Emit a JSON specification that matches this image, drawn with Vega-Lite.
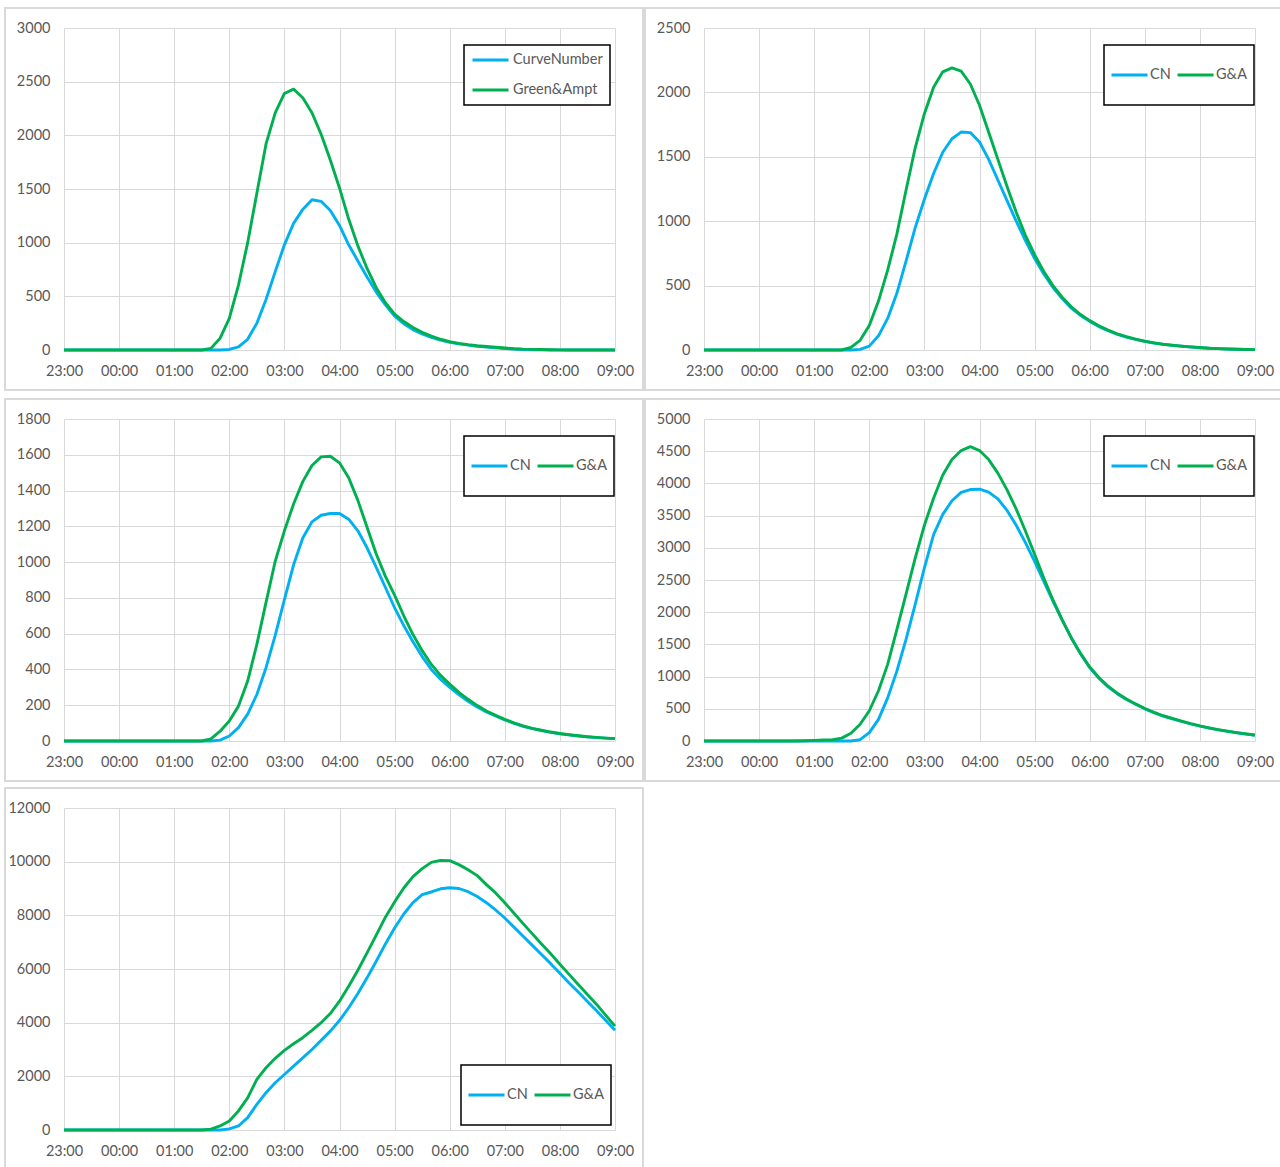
{
"$schema":"https://vega.github.io/schema/vega-lite/v6.json",
"padding":{"left":3,"top":6,"right":0,"bottom":0},
"background":"white",
"columns":2,
"spacing":{"row":5,"column":-2},
"resolve":{"scale":{"color":"independent"},"legend":{"color":"independent"}},
"config":{
"font":"Lato",
"view":{"stroke":null},
"axis":{"domain":false,"ticks":false,"grid":true,"gridColor":"#d9d9d9","gridWidth":1,"labelFont":"Lato","labelFontSize":14.5,"labelColor":"#595959"},
"legend":{"strokeColor":"#000000","strokeWidth":1.5,"fillColor":"#ffffff","labelFont":"Lato","labelFontSize":14.5,"labelColor":"#595959","symbolType":"stroke","symbolStrokeWidth":3,"symbolSize":1296,"labelOffset":3}
},
"datasets":{
"p1":[
{"s":"CurveNumber","t":"2020-01-01T23:00","v":0},{"s":"CurveNumber","t":"2020-01-01T23:10","v":0},{"s":"CurveNumber","t":"2020-01-01T23:20","v":0},{"s":"CurveNumber","t":"2020-01-01T23:30","v":0},{"s":"CurveNumber","t":"2020-01-01T23:40","v":0},{"s":"CurveNumber","t":"2020-01-01T23:50","v":0},
{"s":"CurveNumber","t":"2020-01-02T00:00","v":0},{"s":"CurveNumber","t":"2020-01-02T00:10","v":0},{"s":"CurveNumber","t":"2020-01-02T00:20","v":0},{"s":"CurveNumber","t":"2020-01-02T00:30","v":0},{"s":"CurveNumber","t":"2020-01-02T00:40","v":0},{"s":"CurveNumber","t":"2020-01-02T00:50","v":0},
{"s":"CurveNumber","t":"2020-01-02T01:00","v":0},{"s":"CurveNumber","t":"2020-01-02T01:10","v":0},{"s":"CurveNumber","t":"2020-01-02T01:20","v":0},{"s":"CurveNumber","t":"2020-01-02T01:30","v":0},{"s":"CurveNumber","t":"2020-01-02T01:40","v":0},{"s":"CurveNumber","t":"2020-01-02T01:50","v":0},
{"s":"CurveNumber","t":"2020-01-02T02:00","v":5},{"s":"CurveNumber","t":"2020-01-02T02:10","v":30},{"s":"CurveNumber","t":"2020-01-02T02:20","v":100},{"s":"CurveNumber","t":"2020-01-02T02:30","v":250},{"s":"CurveNumber","t":"2020-01-02T02:40","v":470},{"s":"CurveNumber","t":"2020-01-02T02:50","v":730},
{"s":"CurveNumber","t":"2020-01-02T03:00","v":980},{"s":"CurveNumber","t":"2020-01-02T03:10","v":1180},{"s":"CurveNumber","t":"2020-01-02T03:20","v":1310},{"s":"CurveNumber","t":"2020-01-02T03:30","v":1400},{"s":"CurveNumber","t":"2020-01-02T03:40","v":1385},{"s":"CurveNumber","t":"2020-01-02T03:50","v":1300},
{"s":"CurveNumber","t":"2020-01-02T04:00","v":1160},{"s":"CurveNumber","t":"2020-01-02T04:10","v":980},{"s":"CurveNumber","t":"2020-01-02T04:20","v":830},{"s":"CurveNumber","t":"2020-01-02T04:30","v":680},{"s":"CurveNumber","t":"2020-01-02T04:40","v":540},{"s":"CurveNumber","t":"2020-01-02T04:50","v":420},
{"s":"CurveNumber","t":"2020-01-02T05:00","v":315},{"s":"CurveNumber","t":"2020-01-02T05:10","v":245},{"s":"CurveNumber","t":"2020-01-02T05:20","v":190},{"s":"CurveNumber","t":"2020-01-02T05:30","v":150},{"s":"CurveNumber","t":"2020-01-02T05:40","v":118},{"s":"CurveNumber","t":"2020-01-02T05:50","v":92},
{"s":"CurveNumber","t":"2020-01-02T06:00","v":72},{"s":"CurveNumber","t":"2020-01-02T06:10","v":57},{"s":"CurveNumber","t":"2020-01-02T06:20","v":45},{"s":"CurveNumber","t":"2020-01-02T06:30","v":35},{"s":"CurveNumber","t":"2020-01-02T06:40","v":27},{"s":"CurveNumber","t":"2020-01-02T06:50","v":20},
{"s":"CurveNumber","t":"2020-01-02T07:00","v":14},{"s":"CurveNumber","t":"2020-01-02T07:10","v":9},{"s":"CurveNumber","t":"2020-01-02T07:20","v":5},{"s":"CurveNumber","t":"2020-01-02T07:30","v":3},{"s":"CurveNumber","t":"2020-01-02T07:40","v":1},{"s":"CurveNumber","t":"2020-01-02T07:50","v":0},
{"s":"CurveNumber","t":"2020-01-02T08:00","v":0},{"s":"CurveNumber","t":"2020-01-02T08:10","v":0},{"s":"CurveNumber","t":"2020-01-02T08:20","v":0},{"s":"CurveNumber","t":"2020-01-02T08:30","v":0},{"s":"CurveNumber","t":"2020-01-02T08:40","v":0},{"s":"CurveNumber","t":"2020-01-02T08:50","v":0},
{"s":"CurveNumber","t":"2020-01-02T09:00","v":0},
{"s":"Green&Ampt","t":"2020-01-01T23:00","v":0},{"s":"Green&Ampt","t":"2020-01-01T23:10","v":0},{"s":"Green&Ampt","t":"2020-01-01T23:20","v":0},{"s":"Green&Ampt","t":"2020-01-01T23:30","v":0},{"s":"Green&Ampt","t":"2020-01-01T23:40","v":0},{"s":"Green&Ampt","t":"2020-01-01T23:50","v":0},
{"s":"Green&Ampt","t":"2020-01-02T00:00","v":0},{"s":"Green&Ampt","t":"2020-01-02T00:10","v":0},{"s":"Green&Ampt","t":"2020-01-02T00:20","v":0},{"s":"Green&Ampt","t":"2020-01-02T00:30","v":0},{"s":"Green&Ampt","t":"2020-01-02T00:40","v":0},{"s":"Green&Ampt","t":"2020-01-02T00:50","v":0},
{"s":"Green&Ampt","t":"2020-01-02T01:00","v":0},{"s":"Green&Ampt","t":"2020-01-02T01:10","v":0},{"s":"Green&Ampt","t":"2020-01-02T01:20","v":0},{"s":"Green&Ampt","t":"2020-01-02T01:30","v":0},{"s":"Green&Ampt","t":"2020-01-02T01:40","v":15},{"s":"Green&Ampt","t":"2020-01-02T01:50","v":110},
{"s":"Green&Ampt","t":"2020-01-02T02:00","v":295},{"s":"Green&Ampt","t":"2020-01-02T02:10","v":605},{"s":"Green&Ampt","t":"2020-01-02T02:20","v":1000},{"s":"Green&Ampt","t":"2020-01-02T02:30","v":1460},{"s":"Green&Ampt","t":"2020-01-02T02:40","v":1920},{"s":"Green&Ampt","t":"2020-01-02T02:50","v":2210},
{"s":"Green&Ampt","t":"2020-01-02T03:00","v":2390},{"s":"Green&Ampt","t":"2020-01-02T03:10","v":2430},{"s":"Green&Ampt","t":"2020-01-02T03:20","v":2350},{"s":"Green&Ampt","t":"2020-01-02T03:30","v":2210},{"s":"Green&Ampt","t":"2020-01-02T03:40","v":2010},{"s":"Green&Ampt","t":"2020-01-02T03:50","v":1770},
{"s":"Green&Ampt","t":"2020-01-02T04:00","v":1510},{"s":"Green&Ampt","t":"2020-01-02T04:10","v":1220},{"s":"Green&Ampt","t":"2020-01-02T04:20","v":970},{"s":"Green&Ampt","t":"2020-01-02T04:30","v":760},{"s":"Green&Ampt","t":"2020-01-02T04:40","v":580},{"s":"Green&Ampt","t":"2020-01-02T04:50","v":440},
{"s":"Green&Ampt","t":"2020-01-02T05:00","v":335},{"s":"Green&Ampt","t":"2020-01-02T05:10","v":265},{"s":"Green&Ampt","t":"2020-01-02T05:20","v":210},{"s":"Green&Ampt","t":"2020-01-02T05:30","v":165},{"s":"Green&Ampt","t":"2020-01-02T05:40","v":130},{"s":"Green&Ampt","t":"2020-01-02T05:50","v":100},
{"s":"Green&Ampt","t":"2020-01-02T06:00","v":78},{"s":"Green&Ampt","t":"2020-01-02T06:10","v":62},{"s":"Green&Ampt","t":"2020-01-02T06:20","v":50},{"s":"Green&Ampt","t":"2020-01-02T06:30","v":40},{"s":"Green&Ampt","t":"2020-01-02T06:40","v":32},{"s":"Green&Ampt","t":"2020-01-02T06:50","v":25},
{"s":"Green&Ampt","t":"2020-01-02T07:00","v":18},{"s":"Green&Ampt","t":"2020-01-02T07:10","v":12},{"s":"Green&Ampt","t":"2020-01-02T07:20","v":8},{"s":"Green&Ampt","t":"2020-01-02T07:30","v":6},{"s":"Green&Ampt","t":"2020-01-02T07:40","v":5},{"s":"Green&Ampt","t":"2020-01-02T07:50","v":3},
{"s":"Green&Ampt","t":"2020-01-02T08:00","v":1},{"s":"Green&Ampt","t":"2020-01-02T08:10","v":0},{"s":"Green&Ampt","t":"2020-01-02T08:20","v":0},{"s":"Green&Ampt","t":"2020-01-02T08:30","v":0},{"s":"Green&Ampt","t":"2020-01-02T08:40","v":0},{"s":"Green&Ampt","t":"2020-01-02T08:50","v":0},
{"s":"Green&Ampt","t":"2020-01-02T09:00","v":0}
],
"p2":[
{"s":"CN","t":"2020-01-01T23:00","v":0},{"s":"CN","t":"2020-01-01T23:10","v":0},{"s":"CN","t":"2020-01-01T23:20","v":0},{"s":"CN","t":"2020-01-01T23:30","v":0},{"s":"CN","t":"2020-01-01T23:40","v":0},{"s":"CN","t":"2020-01-01T23:50","v":0},
{"s":"CN","t":"2020-01-02T00:00","v":0},{"s":"CN","t":"2020-01-02T00:10","v":0},{"s":"CN","t":"2020-01-02T00:20","v":0},{"s":"CN","t":"2020-01-02T00:30","v":0},{"s":"CN","t":"2020-01-02T00:40","v":0},{"s":"CN","t":"2020-01-02T00:50","v":0},
{"s":"CN","t":"2020-01-02T01:00","v":0},{"s":"CN","t":"2020-01-02T01:10","v":0},{"s":"CN","t":"2020-01-02T01:20","v":0},{"s":"CN","t":"2020-01-02T01:30","v":0},{"s":"CN","t":"2020-01-02T01:40","v":0},{"s":"CN","t":"2020-01-02T01:50","v":5},
{"s":"CN","t":"2020-01-02T02:00","v":30},{"s":"CN","t":"2020-01-02T02:10","v":110},{"s":"CN","t":"2020-01-02T02:20","v":245},{"s":"CN","t":"2020-01-02T02:30","v":440},{"s":"CN","t":"2020-01-02T02:40","v":690},{"s":"CN","t":"2020-01-02T02:50","v":950},
{"s":"CN","t":"2020-01-02T03:00","v":1170},{"s":"CN","t":"2020-01-02T03:10","v":1370},{"s":"CN","t":"2020-01-02T03:20","v":1535},{"s":"CN","t":"2020-01-02T03:30","v":1640},{"s":"CN","t":"2020-01-02T03:40","v":1692},{"s":"CN","t":"2020-01-02T03:50","v":1688},
{"s":"CN","t":"2020-01-02T04:00","v":1615},{"s":"CN","t":"2020-01-02T04:10","v":1480},{"s":"CN","t":"2020-01-02T04:20","v":1320},{"s":"CN","t":"2020-01-02T04:30","v":1160},{"s":"CN","t":"2020-01-02T04:40","v":1000},{"s":"CN","t":"2020-01-02T04:50","v":850},
{"s":"CN","t":"2020-01-02T05:00","v":710},{"s":"CN","t":"2020-01-02T05:10","v":590},{"s":"CN","t":"2020-01-02T05:20","v":485},{"s":"CN","t":"2020-01-02T05:30","v":400},{"s":"CN","t":"2020-01-02T05:40","v":325},{"s":"CN","t":"2020-01-02T05:50","v":268},
{"s":"CN","t":"2020-01-02T06:00","v":222},{"s":"CN","t":"2020-01-02T06:10","v":182},{"s":"CN","t":"2020-01-02T06:20","v":150},{"s":"CN","t":"2020-01-02T06:30","v":122},{"s":"CN","t":"2020-01-02T06:40","v":100},{"s":"CN","t":"2020-01-02T06:50","v":82},
{"s":"CN","t":"2020-01-02T07:00","v":67},{"s":"CN","t":"2020-01-02T07:10","v":54},{"s":"CN","t":"2020-01-02T07:20","v":44},{"s":"CN","t":"2020-01-02T07:30","v":36},{"s":"CN","t":"2020-01-02T07:40","v":29},{"s":"CN","t":"2020-01-02T07:50","v":23},
{"s":"CN","t":"2020-01-02T08:00","v":18},{"s":"CN","t":"2020-01-02T08:10","v":14},{"s":"CN","t":"2020-01-02T08:20","v":11},{"s":"CN","t":"2020-01-02T08:30","v":8},{"s":"CN","t":"2020-01-02T08:40","v":6},{"s":"CN","t":"2020-01-02T08:50","v":4},
{"s":"CN","t":"2020-01-02T09:00","v":3},
{"s":"G&A","t":"2020-01-01T23:00","v":0},{"s":"G&A","t":"2020-01-01T23:10","v":0},{"s":"G&A","t":"2020-01-01T23:20","v":0},{"s":"G&A","t":"2020-01-01T23:30","v":0},{"s":"G&A","t":"2020-01-01T23:40","v":0},{"s":"G&A","t":"2020-01-01T23:50","v":0},
{"s":"G&A","t":"2020-01-02T00:00","v":0},{"s":"G&A","t":"2020-01-02T00:10","v":0},{"s":"G&A","t":"2020-01-02T00:20","v":0},{"s":"G&A","t":"2020-01-02T00:30","v":0},{"s":"G&A","t":"2020-01-02T00:40","v":0},{"s":"G&A","t":"2020-01-02T00:50","v":0},
{"s":"G&A","t":"2020-01-02T01:00","v":0},{"s":"G&A","t":"2020-01-02T01:10","v":0},{"s":"G&A","t":"2020-01-02T01:20","v":0},{"s":"G&A","t":"2020-01-02T01:30","v":0},{"s":"G&A","t":"2020-01-02T01:40","v":20},{"s":"G&A","t":"2020-01-02T01:50","v":75},
{"s":"G&A","t":"2020-01-02T02:00","v":190},{"s":"G&A","t":"2020-01-02T02:10","v":380},{"s":"G&A","t":"2020-01-02T02:20","v":620},{"s":"G&A","t":"2020-01-02T02:30","v":900},{"s":"G&A","t":"2020-01-02T02:40","v":1240},{"s":"G&A","t":"2020-01-02T02:50","v":1570},
{"s":"G&A","t":"2020-01-02T03:00","v":1835},{"s":"G&A","t":"2020-01-02T03:10","v":2040},{"s":"G&A","t":"2020-01-02T03:20","v":2160},{"s":"G&A","t":"2020-01-02T03:30","v":2190},{"s":"G&A","t":"2020-01-02T03:40","v":2165},{"s":"G&A","t":"2020-01-02T03:50","v":2065},
{"s":"G&A","t":"2020-01-02T04:00","v":1900},{"s":"G&A","t":"2020-01-02T04:10","v":1690},{"s":"G&A","t":"2020-01-02T04:20","v":1480},{"s":"G&A","t":"2020-01-02T04:30","v":1270},{"s":"G&A","t":"2020-01-02T04:40","v":1070},{"s":"G&A","t":"2020-01-02T04:50","v":890},
{"s":"G&A","t":"2020-01-02T05:00","v":740},{"s":"G&A","t":"2020-01-02T05:10","v":610},{"s":"G&A","t":"2020-01-02T05:20","v":500},{"s":"G&A","t":"2020-01-02T05:30","v":410},{"s":"G&A","t":"2020-01-02T05:40","v":335},{"s":"G&A","t":"2020-01-02T05:50","v":275},
{"s":"G&A","t":"2020-01-02T06:00","v":228},{"s":"G&A","t":"2020-01-02T06:10","v":188},{"s":"G&A","t":"2020-01-02T06:20","v":154},{"s":"G&A","t":"2020-01-02T06:30","v":126},{"s":"G&A","t":"2020-01-02T06:40","v":103},{"s":"G&A","t":"2020-01-02T06:50","v":84},
{"s":"G&A","t":"2020-01-02T07:00","v":68},{"s":"G&A","t":"2020-01-02T07:10","v":55},{"s":"G&A","t":"2020-01-02T07:20","v":45},{"s":"G&A","t":"2020-01-02T07:30","v":37},{"s":"G&A","t":"2020-01-02T07:40","v":30},{"s":"G&A","t":"2020-01-02T07:50","v":24},
{"s":"G&A","t":"2020-01-02T08:00","v":19},{"s":"G&A","t":"2020-01-02T08:10","v":14},{"s":"G&A","t":"2020-01-02T08:20","v":11},{"s":"G&A","t":"2020-01-02T08:30","v":8},{"s":"G&A","t":"2020-01-02T08:40","v":6},{"s":"G&A","t":"2020-01-02T08:50","v":4},
{"s":"G&A","t":"2020-01-02T09:00","v":3}
],
"p3":[
{"s":"CN","t":"2020-01-01T23:00","v":0},{"s":"CN","t":"2020-01-01T23:10","v":0},{"s":"CN","t":"2020-01-01T23:20","v":0},{"s":"CN","t":"2020-01-01T23:30","v":0},{"s":"CN","t":"2020-01-01T23:40","v":0},{"s":"CN","t":"2020-01-01T23:50","v":0},
{"s":"CN","t":"2020-01-02T00:00","v":0},{"s":"CN","t":"2020-01-02T00:10","v":0},{"s":"CN","t":"2020-01-02T00:20","v":0},{"s":"CN","t":"2020-01-02T00:30","v":0},{"s":"CN","t":"2020-01-02T00:40","v":0},{"s":"CN","t":"2020-01-02T00:50","v":0},
{"s":"CN","t":"2020-01-02T01:00","v":0},{"s":"CN","t":"2020-01-02T01:10","v":0},{"s":"CN","t":"2020-01-02T01:20","v":0},{"s":"CN","t":"2020-01-02T01:30","v":0},{"s":"CN","t":"2020-01-02T01:40","v":0},{"s":"CN","t":"2020-01-02T01:50","v":5},
{"s":"CN","t":"2020-01-02T02:00","v":28},{"s":"CN","t":"2020-01-02T02:10","v":75},{"s":"CN","t":"2020-01-02T02:20","v":150},{"s":"CN","t":"2020-01-02T02:30","v":260},{"s":"CN","t":"2020-01-02T02:40","v":410},{"s":"CN","t":"2020-01-02T02:50","v":590},
{"s":"CN","t":"2020-01-02T03:00","v":790},{"s":"CN","t":"2020-01-02T03:10","v":985},{"s":"CN","t":"2020-01-02T03:20","v":1135},{"s":"CN","t":"2020-01-02T03:30","v":1225},{"s":"CN","t":"2020-01-02T03:40","v":1262},{"s":"CN","t":"2020-01-02T03:50","v":1272},
{"s":"CN","t":"2020-01-02T04:00","v":1272},{"s":"CN","t":"2020-01-02T04:10","v":1240},{"s":"CN","t":"2020-01-02T04:20","v":1175},{"s":"CN","t":"2020-01-02T04:30","v":1080},{"s":"CN","t":"2020-01-02T04:40","v":970},{"s":"CN","t":"2020-01-02T04:50","v":858},
{"s":"CN","t":"2020-01-02T05:00","v":745},{"s":"CN","t":"2020-01-02T05:10","v":645},{"s":"CN","t":"2020-01-02T05:20","v":555},{"s":"CN","t":"2020-01-02T05:30","v":472},{"s":"CN","t":"2020-01-02T05:40","v":400},{"s":"CN","t":"2020-01-02T05:50","v":345},
{"s":"CN","t":"2020-01-02T06:00","v":300},{"s":"CN","t":"2020-01-02T06:10","v":260},{"s":"CN","t":"2020-01-02T06:20","v":222},{"s":"CN","t":"2020-01-02T06:30","v":190},{"s":"CN","t":"2020-01-02T06:40","v":162},{"s":"CN","t":"2020-01-02T06:50","v":140},
{"s":"CN","t":"2020-01-02T07:00","v":118},{"s":"CN","t":"2020-01-02T07:10","v":99},{"s":"CN","t":"2020-01-02T07:20","v":82},{"s":"CN","t":"2020-01-02T07:30","v":69},{"s":"CN","t":"2020-01-02T07:40","v":58},{"s":"CN","t":"2020-01-02T07:50","v":48},
{"s":"CN","t":"2020-01-02T08:00","v":40},{"s":"CN","t":"2020-01-02T08:10","v":34},{"s":"CN","t":"2020-01-02T08:20","v":28},{"s":"CN","t":"2020-01-02T08:30","v":23},{"s":"CN","t":"2020-01-02T08:40","v":19},{"s":"CN","t":"2020-01-02T08:50","v":16},
{"s":"CN","t":"2020-01-02T09:00","v":13},
{"s":"G&A","t":"2020-01-01T23:00","v":0},{"s":"G&A","t":"2020-01-01T23:10","v":0},{"s":"G&A","t":"2020-01-01T23:20","v":0},{"s":"G&A","t":"2020-01-01T23:30","v":0},{"s":"G&A","t":"2020-01-01T23:40","v":0},{"s":"G&A","t":"2020-01-01T23:50","v":0},
{"s":"G&A","t":"2020-01-02T00:00","v":0},{"s":"G&A","t":"2020-01-02T00:10","v":0},{"s":"G&A","t":"2020-01-02T00:20","v":0},{"s":"G&A","t":"2020-01-02T00:30","v":0},{"s":"G&A","t":"2020-01-02T00:40","v":0},{"s":"G&A","t":"2020-01-02T00:50","v":0},
{"s":"G&A","t":"2020-01-02T01:00","v":0},{"s":"G&A","t":"2020-01-02T01:10","v":0},{"s":"G&A","t":"2020-01-02T01:20","v":0},{"s":"G&A","t":"2020-01-02T01:30","v":0},{"s":"G&A","t":"2020-01-02T01:40","v":12},{"s":"G&A","t":"2020-01-02T01:50","v":55},
{"s":"G&A","t":"2020-01-02T02:00","v":112},{"s":"G&A","t":"2020-01-02T02:10","v":195},{"s":"G&A","t":"2020-01-02T02:20","v":335},{"s":"G&A","t":"2020-01-02T02:30","v":540},{"s":"G&A","t":"2020-01-02T02:40","v":775},{"s":"G&A","t":"2020-01-02T02:50","v":1005},
{"s":"G&A","t":"2020-01-02T03:00","v":1175},{"s":"G&A","t":"2020-01-02T03:10","v":1325},{"s":"G&A","t":"2020-01-02T03:20","v":1450},{"s":"G&A","t":"2020-01-02T03:30","v":1540},{"s":"G&A","t":"2020-01-02T03:40","v":1588},{"s":"G&A","t":"2020-01-02T03:50","v":1592},
{"s":"G&A","t":"2020-01-02T04:00","v":1555},{"s":"G&A","t":"2020-01-02T04:10","v":1472},{"s":"G&A","t":"2020-01-02T04:20","v":1345},{"s":"G&A","t":"2020-01-02T04:30","v":1195},{"s":"G&A","t":"2020-01-02T04:40","v":1045},{"s":"G&A","t":"2020-01-02T04:50","v":920},
{"s":"G&A","t":"2020-01-02T05:00","v":815},{"s":"G&A","t":"2020-01-02T05:10","v":700},{"s":"G&A","t":"2020-01-02T05:20","v":595},{"s":"G&A","t":"2020-01-02T05:30","v":505},{"s":"G&A","t":"2020-01-02T05:40","v":428},{"s":"G&A","t":"2020-01-02T05:50","v":367},
{"s":"G&A","t":"2020-01-02T06:00","v":318},{"s":"G&A","t":"2020-01-02T06:10","v":272},{"s":"G&A","t":"2020-01-02T06:20","v":233},{"s":"G&A","t":"2020-01-02T06:30","v":198},{"s":"G&A","t":"2020-01-02T06:40","v":168},{"s":"G&A","t":"2020-01-02T06:50","v":143},
{"s":"G&A","t":"2020-01-02T07:00","v":121},{"s":"G&A","t":"2020-01-02T07:10","v":101},{"s":"G&A","t":"2020-01-02T07:20","v":84},{"s":"G&A","t":"2020-01-02T07:30","v":71},{"s":"G&A","t":"2020-01-02T07:40","v":60},{"s":"G&A","t":"2020-01-02T07:50","v":50},
{"s":"G&A","t":"2020-01-02T08:00","v":42},{"s":"G&A","t":"2020-01-02T08:10","v":35},{"s":"G&A","t":"2020-01-02T08:20","v":29},{"s":"G&A","t":"2020-01-02T08:30","v":24},{"s":"G&A","t":"2020-01-02T08:40","v":20},{"s":"G&A","t":"2020-01-02T08:50","v":16},
{"s":"G&A","t":"2020-01-02T09:00","v":13}
],
"p4":[
{"s":"CN","t":"2020-01-01T23:00","v":0},{"s":"CN","t":"2020-01-01T23:10","v":0},{"s":"CN","t":"2020-01-01T23:20","v":0},{"s":"CN","t":"2020-01-01T23:30","v":0},{"s":"CN","t":"2020-01-01T23:40","v":0},{"s":"CN","t":"2020-01-01T23:50","v":0},
{"s":"CN","t":"2020-01-02T00:00","v":0},{"s":"CN","t":"2020-01-02T00:10","v":0},{"s":"CN","t":"2020-01-02T00:20","v":0},{"s":"CN","t":"2020-01-02T00:30","v":0},{"s":"CN","t":"2020-01-02T00:40","v":0},{"s":"CN","t":"2020-01-02T00:50","v":0},
{"s":"CN","t":"2020-01-02T01:00","v":0},{"s":"CN","t":"2020-01-02T01:10","v":0},{"s":"CN","t":"2020-01-02T01:20","v":0},{"s":"CN","t":"2020-01-02T01:30","v":0},{"s":"CN","t":"2020-01-02T01:40","v":0},{"s":"CN","t":"2020-01-02T01:50","v":20},
{"s":"CN","t":"2020-01-02T02:00","v":130},{"s":"CN","t":"2020-01-02T02:10","v":335},{"s":"CN","t":"2020-01-02T02:20","v":670},{"s":"CN","t":"2020-01-02T02:30","v":1085},{"s":"CN","t":"2020-01-02T02:40","v":1577},{"s":"CN","t":"2020-01-02T02:50","v":2120},
{"s":"CN","t":"2020-01-02T03:00","v":2690},{"s":"CN","t":"2020-01-02T03:10","v":3205},{"s":"CN","t":"2020-01-02T03:20","v":3520},{"s":"CN","t":"2020-01-02T03:30","v":3730},{"s":"CN","t":"2020-01-02T03:40","v":3860},{"s":"CN","t":"2020-01-02T03:50","v":3905},
{"s":"CN","t":"2020-01-02T04:00","v":3910},{"s":"CN","t":"2020-01-02T04:10","v":3865},{"s":"CN","t":"2020-01-02T04:20","v":3760},{"s":"CN","t":"2020-01-02T04:30","v":3580},{"s":"CN","t":"2020-01-02T04:40","v":3350},{"s":"CN","t":"2020-01-02T04:50","v":3080},
{"s":"CN","t":"2020-01-02T05:00","v":2790},{"s":"CN","t":"2020-01-02T05:10","v":2480},{"s":"CN","t":"2020-01-02T05:20","v":2170},{"s":"CN","t":"2020-01-02T05:30","v":1880},{"s":"CN","t":"2020-01-02T05:40","v":1600},{"s":"CN","t":"2020-01-02T05:50","v":1355},
{"s":"CN","t":"2020-01-02T06:00","v":1140},{"s":"CN","t":"2020-01-02T06:10","v":975},{"s":"CN","t":"2020-01-02T06:20","v":840},{"s":"CN","t":"2020-01-02T06:30","v":735},{"s":"CN","t":"2020-01-02T06:40","v":645},{"s":"CN","t":"2020-01-02T06:50","v":570},
{"s":"CN","t":"2020-01-02T07:00","v":500},{"s":"CN","t":"2020-01-02T07:10","v":440},{"s":"CN","t":"2020-01-02T07:20","v":388},{"s":"CN","t":"2020-01-02T07:30","v":345},{"s":"CN","t":"2020-01-02T07:40","v":305},{"s":"CN","t":"2020-01-02T07:50","v":265},
{"s":"CN","t":"2020-01-02T08:00","v":230},{"s":"CN","t":"2020-01-02T08:10","v":200},{"s":"CN","t":"2020-01-02T08:20","v":173},{"s":"CN","t":"2020-01-02T08:30","v":150},{"s":"CN","t":"2020-01-02T08:40","v":128},{"s":"CN","t":"2020-01-02T08:50","v":108},
{"s":"CN","t":"2020-01-02T09:00","v":90},
{"s":"G&A","t":"2020-01-01T23:00","v":0},{"s":"G&A","t":"2020-01-01T23:10","v":0},{"s":"G&A","t":"2020-01-01T23:20","v":0},{"s":"G&A","t":"2020-01-01T23:30","v":0},{"s":"G&A","t":"2020-01-01T23:40","v":0},{"s":"G&A","t":"2020-01-01T23:50","v":0},
{"s":"G&A","t":"2020-01-02T00:00","v":0},{"s":"G&A","t":"2020-01-02T00:10","v":0},{"s":"G&A","t":"2020-01-02T00:20","v":0},{"s":"G&A","t":"2020-01-02T00:30","v":0},{"s":"G&A","t":"2020-01-02T00:40","v":0},{"s":"G&A","t":"2020-01-02T00:50","v":5},
{"s":"G&A","t":"2020-01-02T01:00","v":10},{"s":"G&A","t":"2020-01-02T01:10","v":18},{"s":"G&A","t":"2020-01-02T01:20","v":22},{"s":"G&A","t":"2020-01-02T01:30","v":45},{"s":"G&A","t":"2020-01-02T01:40","v":120},{"s":"G&A","t":"2020-01-02T01:50","v":260},
{"s":"G&A","t":"2020-01-02T02:00","v":470},{"s":"G&A","t":"2020-01-02T02:10","v":780},{"s":"G&A","t":"2020-01-02T02:20","v":1190},{"s":"G&A","t":"2020-01-02T02:30","v":1730},{"s":"G&A","t":"2020-01-02T02:40","v":2280},{"s":"G&A","t":"2020-01-02T02:50","v":2840},
{"s":"G&A","t":"2020-01-02T03:00","v":3350},{"s":"G&A","t":"2020-01-02T03:10","v":3770},{"s":"G&A","t":"2020-01-02T03:20","v":4130},{"s":"G&A","t":"2020-01-02T03:30","v":4370},{"s":"G&A","t":"2020-01-02T03:40","v":4510},{"s":"G&A","t":"2020-01-02T03:50","v":4570},
{"s":"G&A","t":"2020-01-02T04:00","v":4510},{"s":"G&A","t":"2020-01-02T04:10","v":4370},{"s":"G&A","t":"2020-01-02T04:20","v":4160},{"s":"G&A","t":"2020-01-02T04:30","v":3900},{"s":"G&A","t":"2020-01-02T04:40","v":3600},{"s":"G&A","t":"2020-01-02T04:50","v":3260},
{"s":"G&A","t":"2020-01-02T05:00","v":2900},{"s":"G&A","t":"2020-01-02T05:10","v":2530},{"s":"G&A","t":"2020-01-02T05:20","v":2190},{"s":"G&A","t":"2020-01-02T05:30","v":1880},{"s":"G&A","t":"2020-01-02T05:40","v":1600},{"s":"G&A","t":"2020-01-02T05:50","v":1360},
{"s":"G&A","t":"2020-01-02T06:00","v":1150},{"s":"G&A","t":"2020-01-02T06:10","v":985},{"s":"G&A","t":"2020-01-02T06:20","v":850},{"s":"G&A","t":"2020-01-02T06:30","v":742},{"s":"G&A","t":"2020-01-02T06:40","v":652},{"s":"G&A","t":"2020-01-02T06:50","v":576},
{"s":"G&A","t":"2020-01-02T07:00","v":505},{"s":"G&A","t":"2020-01-02T07:10","v":445},{"s":"G&A","t":"2020-01-02T07:20","v":392},{"s":"G&A","t":"2020-01-02T07:30","v":350},{"s":"G&A","t":"2020-01-02T07:40","v":310},{"s":"G&A","t":"2020-01-02T07:50","v":270},
{"s":"G&A","t":"2020-01-02T08:00","v":234},{"s":"G&A","t":"2020-01-02T08:10","v":204},{"s":"G&A","t":"2020-01-02T08:20","v":177},{"s":"G&A","t":"2020-01-02T08:30","v":153},{"s":"G&A","t":"2020-01-02T08:40","v":131},{"s":"G&A","t":"2020-01-02T08:50","v":111},
{"s":"G&A","t":"2020-01-02T09:00","v":93}
],
"p5":[
{"s":"CN","t":"2020-01-01T23:00","v":0},{"s":"CN","t":"2020-01-01T23:10","v":0},{"s":"CN","t":"2020-01-01T23:20","v":0},{"s":"CN","t":"2020-01-01T23:30","v":0},{"s":"CN","t":"2020-01-01T23:40","v":0},{"s":"CN","t":"2020-01-01T23:50","v":0},
{"s":"CN","t":"2020-01-02T00:00","v":0},{"s":"CN","t":"2020-01-02T00:10","v":0},{"s":"CN","t":"2020-01-02T00:20","v":0},{"s":"CN","t":"2020-01-02T00:30","v":0},{"s":"CN","t":"2020-01-02T00:40","v":0},{"s":"CN","t":"2020-01-02T00:50","v":0},
{"s":"CN","t":"2020-01-02T01:00","v":0},{"s":"CN","t":"2020-01-02T01:10","v":0},{"s":"CN","t":"2020-01-02T01:20","v":0},{"s":"CN","t":"2020-01-02T01:30","v":0},{"s":"CN","t":"2020-01-02T01:40","v":0},{"s":"CN","t":"2020-01-02T01:50","v":0},
{"s":"CN","t":"2020-01-02T02:00","v":40},{"s":"CN","t":"2020-01-02T02:10","v":150},{"s":"CN","t":"2020-01-02T02:20","v":460},{"s":"CN","t":"2020-01-02T02:30","v":955},{"s":"CN","t":"2020-01-02T02:40","v":1390},{"s":"CN","t":"2020-01-02T02:50","v":1760},
{"s":"CN","t":"2020-01-02T03:00","v":2070},{"s":"CN","t":"2020-01-02T03:10","v":2380},{"s":"CN","t":"2020-01-02T03:20","v":2690},{"s":"CN","t":"2020-01-02T03:30","v":3000},{"s":"CN","t":"2020-01-02T03:40","v":3340},{"s":"CN","t":"2020-01-02T03:50","v":3685},
{"s":"CN","t":"2020-01-02T04:00","v":4080},{"s":"CN","t":"2020-01-02T04:10","v":4555},{"s":"CN","t":"2020-01-02T04:20","v":5085},{"s":"CN","t":"2020-01-02T04:30","v":5670},{"s":"CN","t":"2020-01-02T04:40","v":6290},{"s":"CN","t":"2020-01-02T04:50","v":6935},
{"s":"CN","t":"2020-01-02T05:00","v":7530},{"s":"CN","t":"2020-01-02T05:10","v":8050},{"s":"CN","t":"2020-01-02T05:20","v":8475},{"s":"CN","t":"2020-01-02T05:30","v":8770},{"s":"CN","t":"2020-01-02T05:40","v":8870},{"s":"CN","t":"2020-01-02T05:50","v":8990},
{"s":"CN","t":"2020-01-02T06:00","v":9030},{"s":"CN","t":"2020-01-02T06:10","v":9000},{"s":"CN","t":"2020-01-02T06:20","v":8880},{"s":"CN","t":"2020-01-02T06:30","v":8700},{"s":"CN","t":"2020-01-02T06:40","v":8470},{"s":"CN","t":"2020-01-02T06:50","v":8200},
{"s":"CN","t":"2020-01-02T07:00","v":7900},{"s":"CN","t":"2020-01-02T07:10","v":7560},{"s":"CN","t":"2020-01-02T07:20","v":7220},{"s":"CN","t":"2020-01-02T07:30","v":6880},{"s":"CN","t":"2020-01-02T07:40","v":6540},{"s":"CN","t":"2020-01-02T07:50","v":6200},
{"s":"CN","t":"2020-01-02T08:00","v":5840},{"s":"CN","t":"2020-01-02T08:10","v":5480},{"s":"CN","t":"2020-01-02T08:20","v":5140},{"s":"CN","t":"2020-01-02T08:30","v":4790},{"s":"CN","t":"2020-01-02T08:40","v":4440},{"s":"CN","t":"2020-01-02T08:50","v":4080},
{"s":"CN","t":"2020-01-02T09:00","v":3720},
{"s":"G&A","t":"2020-01-01T23:00","v":0},{"s":"G&A","t":"2020-01-01T23:10","v":0},{"s":"G&A","t":"2020-01-01T23:20","v":0},{"s":"G&A","t":"2020-01-01T23:30","v":0},{"s":"G&A","t":"2020-01-01T23:40","v":0},{"s":"G&A","t":"2020-01-01T23:50","v":0},
{"s":"G&A","t":"2020-01-02T00:00","v":0},{"s":"G&A","t":"2020-01-02T00:10","v":0},{"s":"G&A","t":"2020-01-02T00:20","v":0},{"s":"G&A","t":"2020-01-02T00:30","v":0},{"s":"G&A","t":"2020-01-02T00:40","v":0},{"s":"G&A","t":"2020-01-02T00:50","v":0},
{"s":"G&A","t":"2020-01-02T01:00","v":0},{"s":"G&A","t":"2020-01-02T01:10","v":0},{"s":"G&A","t":"2020-01-02T01:20","v":0},{"s":"G&A","t":"2020-01-02T01:30","v":0},{"s":"G&A","t":"2020-01-02T01:40","v":30},{"s":"G&A","t":"2020-01-02T01:50","v":150},
{"s":"G&A","t":"2020-01-02T02:00","v":335},{"s":"G&A","t":"2020-01-02T02:10","v":710},{"s":"G&A","t":"2020-01-02T02:20","v":1200},{"s":"G&A","t":"2020-01-02T02:30","v":1890},{"s":"G&A","t":"2020-01-02T02:40","v":2320},{"s":"G&A","t":"2020-01-02T02:50","v":2670},
{"s":"G&A","t":"2020-01-02T03:00","v":2970},{"s":"G&A","t":"2020-01-02T03:10","v":3215},{"s":"G&A","t":"2020-01-02T03:20","v":3440},{"s":"G&A","t":"2020-01-02T03:30","v":3710},{"s":"G&A","t":"2020-01-02T03:40","v":4000},{"s":"G&A","t":"2020-01-02T03:50","v":4340},
{"s":"G&A","t":"2020-01-02T04:00","v":4800},{"s":"G&A","t":"2020-01-02T04:10","v":5360},{"s":"G&A","t":"2020-01-02T04:20","v":5955},{"s":"G&A","t":"2020-01-02T04:30","v":6600},{"s":"G&A","t":"2020-01-02T04:40","v":7260},{"s":"G&A","t":"2020-01-02T04:50","v":7930},
{"s":"G&A","t":"2020-01-02T05:00","v":8500},{"s":"G&A","t":"2020-01-02T05:10","v":9020},{"s":"G&A","t":"2020-01-02T05:20","v":9440},{"s":"G&A","t":"2020-01-02T05:30","v":9740},{"s":"G&A","t":"2020-01-02T05:40","v":9975},{"s":"G&A","t":"2020-01-02T05:50","v":10050},
{"s":"G&A","t":"2020-01-02T06:00","v":10040},{"s":"G&A","t":"2020-01-02T06:10","v":9890},{"s":"G&A","t":"2020-01-02T06:20","v":9700},{"s":"G&A","t":"2020-01-02T06:30","v":9480},{"s":"G&A","t":"2020-01-02T06:40","v":9145},{"s":"G&A","t":"2020-01-02T06:50","v":8835},
{"s":"G&A","t":"2020-01-02T07:00","v":8470},{"s":"G&A","t":"2020-01-02T07:10","v":8080},{"s":"G&A","t":"2020-01-02T07:20","v":7690},{"s":"G&A","t":"2020-01-02T07:30","v":7310},{"s":"G&A","t":"2020-01-02T07:40","v":6935},{"s":"G&A","t":"2020-01-02T07:50","v":6565},
{"s":"G&A","t":"2020-01-02T08:00","v":6180},{"s":"G&A","t":"2020-01-02T08:10","v":5800},{"s":"G&A","t":"2020-01-02T08:20","v":5420},{"s":"G&A","t":"2020-01-02T08:30","v":5050},{"s":"G&A","t":"2020-01-02T08:40","v":4680},{"s":"G&A","t":"2020-01-02T08:50","v":4270},
{"s":"G&A","t":"2020-01-02T09:00","v":3870}
]
},
"concat":[
{"width":551,"height":322,"resolve":{"axis":{"x":"independent","y":"independent"}},"layer":[
{"data":{"values":[{}]},"mark":{"type":"rect","filled":false,"stroke":"#d9d9d9","strokeWidth":2},
"encoding":{
"x":{"datum":{"year":2020,"month":1,"date":1,"hours":21,"minutes":55,"seconds":45},"type":"temporal","scale":{"domain":[{"year":2020,"month":1,"date":1,"hours":23},{"year":2020,"month":1,"date":2,"hours":9}]},"axis":null},
"x2":{"datum":{"year":2020,"month":1,"date":2,"hours":9,"minutes":30,"seconds":30}},
"y":{"datum":3186.3,"type":"quantitative","scale":{"domain":[0,3000],"nice":false},"axis":null},
"y2":{"datum":-372.7}}},
{"data":{"name":"p1"},"mark":{"type":"line","strokeWidth":2.9,"strokeJoin":"round"},
"encoding":{
"x":{"field":"t","type":"temporal","scale":{"domain":[{"year":2020,"month":1,"date":1,"hours":23},{"year":2020,"month":1,"date":2,"hours":9}]},"axis":{"title":null,"format":"%H:%M","tickCount":10,"labelFlush":false,"labelPadding":14,"grid":true,"gridColor":"#d9d9d9"}},
"y":{"field":"v","type":"quantitative","scale":{"domain":[0,3000],"nice":false},"axis":{"title":null,"format":"d","values":[0,500,1000,1500,2000,2500,3000],"labelPadding":14,"grid":true,"gridColor":"#d9d9d9"}},
"color":{"field":"s","type":"nominal","scale":{"domain":["CurveNumber","Green&Ampt"],"range":["#00b0f0","#00b050"]},"legend":{"title":null,"orient":"none","legendX":400,"legendY":17,"direction":"vertical","padding":7,"clipHeight":16,"rowPadding":14}}}}
]},
{"width":551,"height":322,"resolve":{"axis":{"x":"independent","y":"independent"}},"layer":[
{"data":{"values":[{}]},"mark":{"type":"rect","filled":false,"stroke":"#d9d9d9","strokeWidth":2},
"encoding":{
"x":{"datum":{"year":2020,"month":1,"date":1,"hours":21,"minutes":55,"seconds":45},"type":"temporal","scale":{"domain":[{"year":2020,"month":1,"date":1,"hours":23},{"year":2020,"month":1,"date":2,"hours":9}]},"axis":null},
"x2":{"datum":{"year":2020,"month":1,"date":2,"hours":9,"minutes":30,"seconds":30}},
"y":{"datum":2655.3,"type":"quantitative","scale":{"domain":[0,2500],"nice":false},"axis":null},
"y2":{"datum":-310.6}}},
{"data":{"name":"p2"},"mark":{"type":"line","strokeWidth":2.9,"strokeJoin":"round"},
"encoding":{
"x":{"field":"t","type":"temporal","scale":{"domain":[{"year":2020,"month":1,"date":1,"hours":23},{"year":2020,"month":1,"date":2,"hours":9}]},"axis":{"title":null,"format":"%H:%M","tickCount":10,"labelFlush":false,"labelPadding":14,"grid":true,"gridColor":"#d9d9d9"}},
"y":{"field":"v","type":"quantitative","scale":{"domain":[0,2500],"nice":false},"axis":{"title":null,"format":"d","values":[0,500,1000,1500,2000,2500],"labelPadding":14,"grid":true,"gridColor":"#d9d9d9"}},
"color":{"field":"s","type":"nominal","scale":{"domain":["CN","G&A"],"range":["#00b0f0","#00b050"]},"legend":{"title":null,"orient":"none","legendX":400,"legendY":17,"direction":"horizontal","padding":6,"clipHeight":48,"columnPadding":5,"labelOffset":1}}}}
]},
{"width":551,"height":322,"resolve":{"axis":{"x":"independent","y":"independent"}},"layer":[
{"data":{"values":[{}]},"mark":{"type":"rect","filled":false,"stroke":"#d9d9d9","strokeWidth":2},
"encoding":{
"x":{"datum":{"year":2020,"month":1,"date":1,"hours":21,"minutes":55,"seconds":45},"type":"temporal","scale":{"domain":[{"year":2020,"month":1,"date":1,"hours":23},{"year":2020,"month":1,"date":2,"hours":9}]},"axis":null},
"x2":{"datum":{"year":2020,"month":1,"date":2,"hours":9,"minutes":30,"seconds":30}},
"y":{"datum":1911.8,"type":"quantitative","scale":{"domain":[0,1800],"nice":false},"axis":null},
"y2":{"datum":-223.6}}},
{"data":{"name":"p3"},"mark":{"type":"line","strokeWidth":2.9,"strokeJoin":"round"},
"encoding":{
"x":{"field":"t","type":"temporal","scale":{"domain":[{"year":2020,"month":1,"date":1,"hours":23},{"year":2020,"month":1,"date":2,"hours":9}]},"axis":{"title":null,"format":"%H:%M","tickCount":10,"labelFlush":false,"labelPadding":14,"grid":true,"gridColor":"#d9d9d9"}},
"y":{"field":"v","type":"quantitative","scale":{"domain":[0,1800],"nice":false},"axis":{"title":null,"format":"d","values":[0,200,400,600,800,1000,1200,1400,1600,1800],"labelPadding":14,"grid":true,"gridColor":"#d9d9d9"}},
"color":{"field":"s","type":"nominal","scale":{"domain":["CN","G&A"],"range":["#00b0f0","#00b050"]},"legend":{"title":null,"orient":"none","legendX":400,"legendY":17,"direction":"horizontal","padding":6,"clipHeight":48,"columnPadding":5,"labelOffset":1}}}}
]},
{"width":551,"height":322,"resolve":{"axis":{"x":"independent","y":"independent"}},"layer":[
{"data":{"values":[{}]},"mark":{"type":"rect","filled":false,"stroke":"#d9d9d9","strokeWidth":2},
"encoding":{
"x":{"datum":{"year":2020,"month":1,"date":1,"hours":21,"minutes":55,"seconds":45},"type":"temporal","scale":{"domain":[{"year":2020,"month":1,"date":1,"hours":23},{"year":2020,"month":1,"date":2,"hours":9}]},"axis":null},
"x2":{"datum":{"year":2020,"month":1,"date":2,"hours":9,"minutes":30,"seconds":30}},
"y":{"datum":5310.6,"type":"quantitative","scale":{"domain":[0,5000],"nice":false},"axis":null},
"y2":{"datum":-621.1}}},
{"data":{"name":"p4"},"mark":{"type":"line","strokeWidth":2.9,"strokeJoin":"round"},
"encoding":{
"x":{"field":"t","type":"temporal","scale":{"domain":[{"year":2020,"month":1,"date":1,"hours":23},{"year":2020,"month":1,"date":2,"hours":9}]},"axis":{"title":null,"format":"%H:%M","tickCount":10,"labelFlush":false,"labelPadding":14,"grid":true,"gridColor":"#d9d9d9"}},
"y":{"field":"v","type":"quantitative","scale":{"domain":[0,5000],"nice":false},"axis":{"title":null,"format":"d","values":[0,500,1000,1500,2000,2500,3000,3500,4000,4500,5000],"labelPadding":14,"grid":true,"gridColor":"#d9d9d9"}},
"color":{"field":"s","type":"nominal","scale":{"domain":["CN","G&A"],"range":["#00b0f0","#00b050"]},"legend":{"title":null,"orient":"none","legendX":400,"legendY":17,"direction":"horizontal","padding":6,"clipHeight":48,"columnPadding":5,"labelOffset":1}}}}
]},
{"width":551,"height":322,"resolve":{"axis":{"x":"independent","y":"independent"}},"layer":[
{"data":{"values":[{}]},"mark":{"type":"rect","filled":false,"stroke":"#d9d9d9","strokeWidth":2},
"encoding":{
"x":{"datum":{"year":2020,"month":1,"date":1,"hours":21,"minutes":55,"seconds":45},"type":"temporal","scale":{"domain":[{"year":2020,"month":1,"date":1,"hours":23},{"year":2020,"month":1,"date":2,"hours":9}]},"axis":null},
"x2":{"datum":{"year":2020,"month":1,"date":2,"hours":9,"minutes":30,"seconds":30}},
"y":{"datum":12745.3,"type":"quantitative","scale":{"domain":[0,12000],"nice":false},"axis":null},
"y2":{"datum":-1490.7}}},
{"data":{"name":"p5"},"mark":{"type":"line","strokeWidth":2.9,"strokeJoin":"round"},
"encoding":{
"x":{"field":"t","type":"temporal","scale":{"domain":[{"year":2020,"month":1,"date":1,"hours":23},{"year":2020,"month":1,"date":2,"hours":9}]},"axis":{"title":null,"format":"%H:%M","tickCount":10,"labelFlush":false,"labelPadding":14,"grid":true,"gridColor":"#d9d9d9"}},
"y":{"field":"v","type":"quantitative","scale":{"domain":[0,12000],"nice":false},"axis":{"title":null,"format":"d","values":[0,2000,4000,6000,8000,10000,12000],"labelPadding":14,"grid":true,"gridColor":"#d9d9d9"}},
"color":{"field":"s","type":"nominal","scale":{"domain":["CN","G&A"],"range":["#00b0f0","#00b050"]},"legend":{"title":null,"orient":"none","legendX":397,"legendY":257,"direction":"horizontal","padding":6,"clipHeight":48,"columnPadding":5,"labelOffset":1}}}}
]}
]
}
